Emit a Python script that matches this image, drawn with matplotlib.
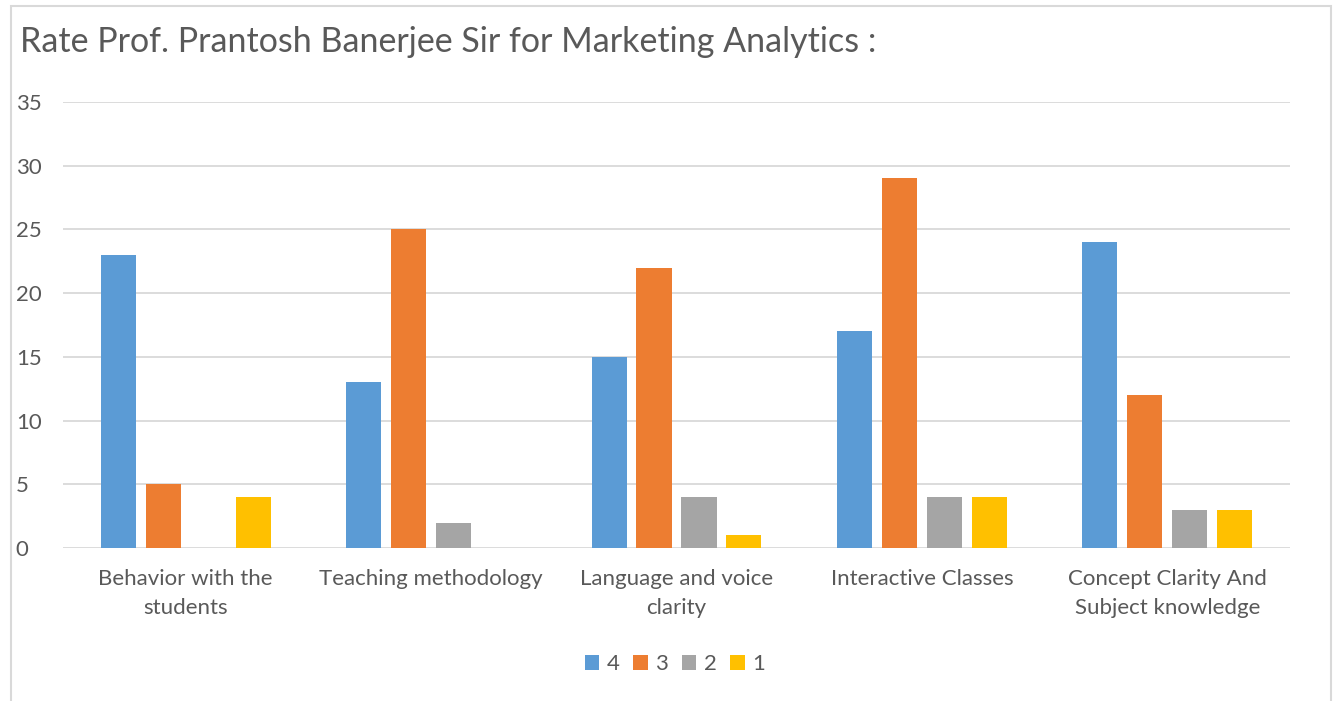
import matplotlib
matplotlib.use('Agg')
import matplotlib.pyplot as plt
import numpy as np
from matplotlib.patches import Rectangle

kategorie = ['Behavior with the\nstudents', 'Teaching methodology', 'Language and voice\nclarity',
             'Interactive Classes', 'Concept Clarity And\nSubject knowledge']
serie = ['4', '3', '2', '1']
oceny_4 = [23, 13, 15, 17, 24]
oceny_3 = [5, 25, 22, 29, 12]
oceny_2 = [0, 2, 4, 4, 3]
oceny_1 = [4, 0, 1, 4, 3]
kolory = ['#5B9BD5', '#ED7D31', '#A5A5A5', '#FFC000']

plt.rcParams['font.family'] = ['Lato', 'DejaVu Sans']
szary = '#595959'

W, H = 1337, 701
fig = plt.figure(figsize=(W / 100, H / 100), dpi=100)
fig.patches.append(Rectangle((11 / W, -0.1), 1320 / W, 1.1 - 6 / H, transform=fig.transFigure,
                             fill=False, edgecolor='#D9D9D9', linewidth=1.5))

ax = fig.add_axes([63 / W, 1 - 548 / H, (1290 - 63) / W, (548 - 102) / H])
x = np.arange(len(kategorie))
krok = 0.183
szer = 0.143
for i, (dane, kol, nazwa) in enumerate(zip([oceny_4, oceny_3, oceny_2, oceny_1], kolory, serie)):
    ax.bar(x + (i - 1.5) * krok, dane, width=szer, color=kol, label=nazwa, zorder=3)

ax.set_xlim(-0.5, len(kategorie) - 0.5)
ax.set_ylim(0, 35)
ax.set_yticks(range(0, 36, 5))
ax.grid(axis='y', color='#D9D9D9', linewidth=1.3, zorder=0)
for s in ax.spines.values():
    s.set_visible(False)
ax.tick_params(length=0, labelsize=16, colors=szary, pad=15)
ax.tick_params(axis='y', pad=34)
ax.set_xticks(x)
ax.set_xticklabels(kategorie, linespacing=1.6)
for t in ax.get_yticklabels():
    t.set_horizontalalignment('left')

fig.text(20 / W, 1 - 42 / H, 'Rate Prof. Prantosh Banerjee Sir for Marketing Analytics :',
         fontsize=24.5, color=szary, va='center')

fig.legend(loc='center', bbox_to_anchor=(675 / W, 1 - 664 / H), ncol=4, frameon=False,
           fontsize=16, labelcolor=szary, handlelength=0.65, handleheight=0.65,
           handletextpad=0.35, columnspacing=0.6)

plt.savefig('out.png', dpi=100)
plt.close()
